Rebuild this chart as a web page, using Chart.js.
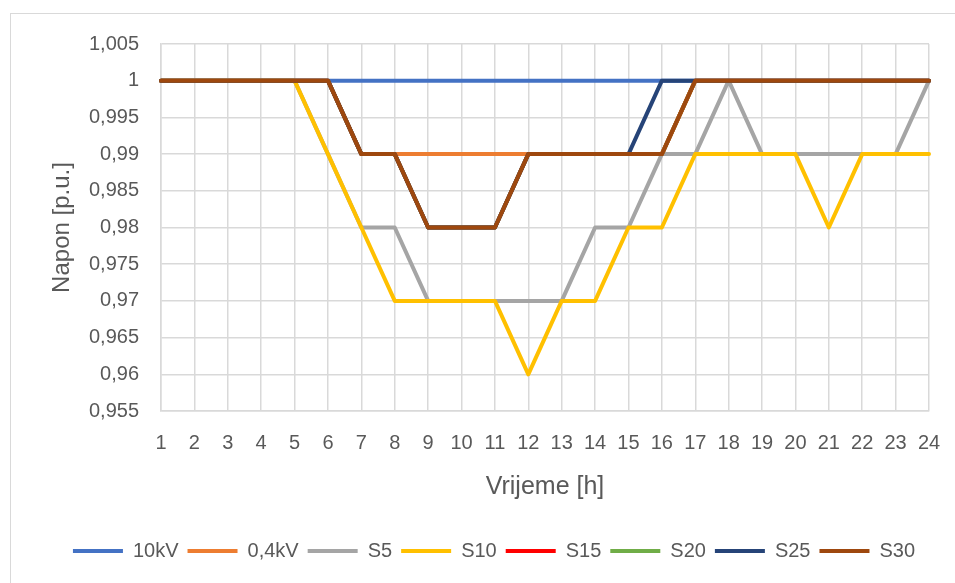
<!DOCTYPE html>
<html>
<head>
<meta charset="utf-8">
<script src="https://cdn.jsdelivr.net/npm/chart.js@4/dist/chart.umd.min.js"></script>
<style>
  html, body { margin: 0; padding: 0; background: #fff; overflow: hidden; }
  body { width: 955px; height: 583px; position: relative; }
  #frame {
    position: absolute; left: 10px; top: 13px; width: 968px; height: 580px;
    border: 1px solid #d9d9d9; box-sizing: border-box;
  }
  #wrap { position: absolute; left: 10px; top: 10px; width: 968px; height: 573px; }
</style>
</head>
<body>
<div id="frame"></div>
<div id="wrap"><canvas id="chart"></canvas></div>
<script>
// Napon po satima za razlicite scenarije
const hours = ['1','2','3','4','5','6','7','8','9','10','11','12','13','14','15','16','17','18','19','20','21','22','23','24'];

const v10kV  = [1,1,1,1,1,1,1,1,1,1,1,1,1,1,1,1,1,1,1,1,1,1,1,1];
const v04kV  = [1,1,1,1,1,1,0.99,0.99,0.99,0.99,0.99,0.99,0.99,0.99,0.99,0.99,1,1,1,1,1,1,1,1];
const vS5    = [1,1,1,1,1,0.99,0.98,0.98,0.97,0.97,0.97,0.97,0.97,0.98,0.98,0.99,0.99,1,0.99,0.99,0.99,0.99,0.99,1];
const vS10   = [1,1,1,1,1,0.99,0.98,0.97,0.97,0.97,0.97,0.96,0.97,0.97,0.98,0.98,0.99,0.99,0.99,0.99,0.98,0.99,0.99,0.99];
const vS15   = [1,1,1,1,1,1,0.99,0.99,0.98,0.98,0.98,0.99,0.99,0.99,0.99,0.99,1,1,1,1,1,1,1,1];
const vS20   = [1,1,1,1,1,1,0.99,0.99,0.98,0.98,0.98,0.99,0.99,0.99,0.99,0.99,1,1,1,1,1,1,1,1];
const vS25   = [1,1,1,1,1,1,0.99,0.99,0.98,0.98,0.98,0.99,0.99,0.99,0.99,1,1,1,1,1,1,1,1,1];
const vS30   = [1,1,1,1,1,1,0.99,0.99,0.98,0.98,0.98,0.99,0.99,0.99,0.99,0.99,1,1,1,1,1,1,1,1];

const seriesNames  = ['10kV', '0,4kV', 'S5', 'S10', 'S15', 'S20', 'S25', 'S30'];
const seriesValues = [v10kV, v04kV, vS5, vS10, vS15, vS20, vS25, vS30];
const seriesColors = ['#4472C4', '#ED7D31', '#A5A5A5', '#FFC000', '#FF0000', '#70AD47', '#264478', '#9E480E'];

const textColor = '#595959';
const gridColor = '#D9D9D9';

Chart.defaults.font.family = "'Liberation Sans', Arial, sans-serif";
Chart.defaults.color = textColor;

function formatTick(value) {
    // 0.985 -> "0,985", 1 -> "1"
    let s = parseFloat(value.toFixed(3)).toString();
    return s.replace('.', ',');
}

// later series drawn on top, as in Excel
const datasets = seriesNames.map((name, i) => ({
    label: name,
    data: seriesValues[i],
    borderColor: seriesColors[i],
    backgroundColor: seriesColors[i],
    borderWidth: 4,
    borderJoinStyle: 'round',
    borderCapStyle: 'round',
    pointRadius: 0,
    pointHoverRadius: 0,
    tension: 0,
    fill: false,
    order: seriesNames.length - i
}));

new Chart(document.getElementById('chart'), {
    type: 'line',
    data: {
        labels: hours,
        datasets: datasets
    },
    options: {
        responsive: true,
        maintainAspectRatio: false,
        animation: false,
        layout: {
            // equal left/right padding keeps the legend centred on the frame
            padding: { left: 49, right: 49, top: 20, bottom: 12 }
        },
        plugins: {
            legend: {
                position: 'bottom',
                labels: {
                    usePointStyle: true,
                    pointStyleWidth: 50,
                    pointStyle: 'line',
                    padding: 9,
                    color: textColor,
                    font: { size: 20 },
                    sort: (a, b) => a.datasetIndex - b.datasetIndex
                }
            },
            tooltip: { enabled: false }
        },
        scales: {
            x: {
                offset: false,
                grid: {
                    color: gridColor,
                    lineWidth: 1.5,
                    drawTicks: false
                },
                border: { color: gridColor, width: 1.5 },
                ticks: {
                    color: textColor,
                    font: { size: 20 },
                    padding: 20,
                    maxRotation: 0,
                    autoSkip: false
                },
                title: {
                    display: true,
                    text: 'Vrijeme [h]',
                    color: textColor,
                    font: { size: 25 },
                    padding: { top: 0, bottom: 30 }
                },
                afterFit: function(scale) {
                    scale.height = 121;
                }
            },
            y: {
                min: 0.955,
                max: 1.005,
                grid: {
                    color: gridColor,
                    lineWidth: 1.5,
                    drawTicks: false
                },
                border: { color: gridColor, width: 1.5 },
                ticks: {
                    stepSize: 0.005,
                    color: textColor,
                    font: { size: 20 },
                    padding: 22,
                    callback: function(value) {
                        return formatTick(value);
                    }
                },
                title: {
                    display: true,
                    text: 'Napon [p.u.]',
                    color: textColor,
                    font: { size: 24 },
                    padding: { top: -11, bottom: 0 }
                },
                afterFit: function(scale) {
                    scale.width = 102;
                }
            }
        }
    }
});
</script>
</body>
</html>
